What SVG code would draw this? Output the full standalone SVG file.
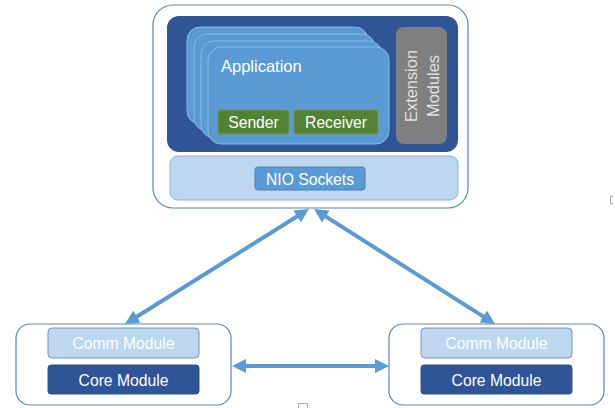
<svg xmlns="http://www.w3.org/2000/svg" width="615" height="408" viewBox="0 0 615 408">
<defs>
<style>
text{font-family:"Liberation Sans",Arial,sans-serif;}
.outer{fill:#ffffff;stroke:#5a86b8;stroke-width:1.2;}
.card{fill:#5b9bd5;stroke:#8cb6e0;stroke-width:1;}
.green{fill:#548235;stroke:#6e9a4e;stroke-width:1;}
.wt{fill:#ffffff;font-size:15.7px;text-anchor:middle;}
.comm{fill:#bdd7ee;stroke:#6f97c6;stroke-width:1;}
.core{fill:#2f5597;stroke:#2f5597;stroke-width:1;}
.conn{stroke:#5b9bd5;stroke-width:4;fill:none;marker-start:url(#ah);marker-end:url(#ah);}
</style>
<marker id="ah" markerUnits="userSpaceOnUse" markerWidth="14" markerHeight="14" refX="4" refY="7" orient="auto-start-reverse">
<path d="M0,0 L14,7 L0,14 z" fill="#5b9bd5"/>
</marker>
</defs>

<g id="server">
<rect class="outer" x="153" y="5" width="315" height="203" rx="20"/>
<rect x="167" y="16" width="291" height="136" rx="12" fill="#2f5597"/>
<g id="application">
<rect class="card" x="187" y="27" width="181" height="97" rx="13"/>
<rect class="card" x="194" y="34" width="181" height="97" rx="13"/>
<rect class="card" x="201" y="41" width="181" height="97" rx="13"/>
<rect class="card" x="208" y="47" width="181" height="97" rx="13"/>
<text x="221" y="72" fill="#ffffff" font-size="16.5">Application</text>
</g>
<g id="sender">
<rect class="green" x="218" y="110" width="71" height="24" rx="2"/>
<text class="wt" x="253.5" y="128">Sender</text>
</g>
<g id="receiver">
<rect class="green" x="294" y="110" width="84" height="24" rx="2"/>
<text class="wt" x="336" y="128">Receiver</text>
</g>
<g id="extension">
<rect x="396" y="27" width="51" height="117" rx="8" fill="#7f7f7f"/>
<text transform="translate(417,86) rotate(-90)" fill="#e0e0e0" font-size="16.4" text-anchor="middle">Extension</text>
<text transform="translate(439,86) rotate(-90)" fill="#e0e0e0" font-size="16.4" text-anchor="middle">Modules</text>
</g>
<g id="nio">
<rect x="170" y="156" width="288" height="44" rx="8" fill="#bdd7ee" stroke="#8fb4dc" stroke-width="1"/>
<rect x="255" y="167" width="110" height="23" rx="3" fill="#5b9bd5" stroke="#4a82bb" stroke-width="1"/>
<text class="wt" x="310" y="185" font-size="15.5">NIO Sockets</text>
</g>
</g>

<g id="node-left">
<rect class="outer" x="16" y="324" width="215" height="81" rx="14"/>
<rect class="comm" x="48" y="328" width="151" height="30" rx="4"/>
<text class="wt" x="123.5" y="349" font-size="16">Comm Module</text>
<rect class="core" x="48" y="365" width="151" height="29" rx="3"/>
<text class="wt" x="123.5" y="386" font-size="16">Core Module</text>
</g>

<g id="node-right">
<rect class="outer" x="389" y="324" width="215" height="81" rx="14"/>
<rect class="comm" x="421" y="328" width="151" height="30" rx="4"/>
<text class="wt" x="496.5" y="349" font-size="16">Comm Module</text>
<rect class="core" x="421" y="365" width="151" height="29" rx="3"/>
<text class="wt" x="496.5" y="386" font-size="16">Core Module</text>
</g>

<g id="connectors">
<line class="conn" x1="133.5" y1="318.7" x2="300.5" y2="214.3"/>
<line class="conn" x1="322.4" y1="214.4" x2="486.6" y2="318.6"/>
<line class="conn" x1="242" y1="366" x2="379" y2="366"/>
</g>

<g id="artifacts" fill="none" stroke="#b0b0b0" stroke-width="1">
<rect x="298.5" y="403.5" width="9" height="6"/>
<path d="M613,196.5 H610.5 V203.5 H613"/>
</g>
</svg>
